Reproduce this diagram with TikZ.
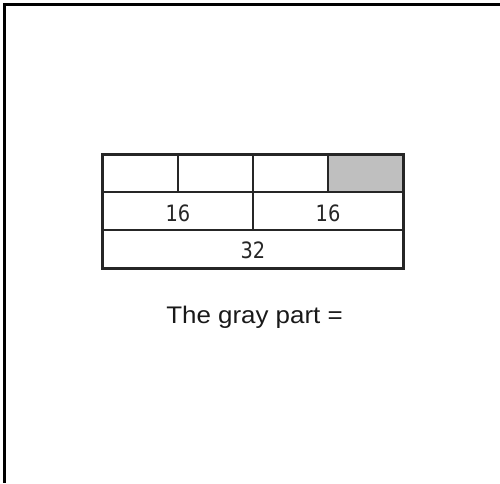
\documentclass[tikz,border=0pt]{standalone}
\usepackage{fontspec}
\setmainfont{Liberation Sans}
\newfontfamily\cellfont{DejaVu Sans}
\newcommand{\celltxt}[1]{\scalebox{0.86}[1]{\cellfont\fontsize{22.5}{27}\selectfont #1}}
\newcommand{\captxt}[1]{\scalebox{1.08}[1]{\fontsize{24}{28}\selectfont #1}}
\begin{document}
\begin{tikzpicture}[x=1pt,y=-1pt,
  frame/.style={line width=3pt},
  inner/.style={line width=2pt, draw=black!85},
  outer/.style={line width=3pt, draw=black!85},
  celltext/.style={inner sep=0pt, anchor=base, text=black!85},
  caption/.style={inner sep=0pt, anchor=base, text=black!90}]
\useasboundingbox (0,0) rectangle (500,483);
\draw[frame] (500,4) -- (4,4) -- (4,483);
\fill[gray!50] (328,154) rectangle (403,192);
\draw[inner] (102,192) -- (403,192);
\draw[inner] (102,230) -- (403,230);
\draw[inner] (178,154) -- (178,192);
\draw[inner] (253,154) -- (253,230);
\draw[inner] (328,154) -- (328,192);
\draw[outer] (102,154) rectangle (403,268);
\node[celltext] (a) at (178,221) {\celltxt{16}};
\node[celltext] (b) at (328,221) {\celltxt{16}};
\node[celltext] (c) at (253,258.5) {\celltxt{32}};
\node[caption] (t) at (254.5,323.5) {\captxt{The gray part =}};
\end{tikzpicture}
\end{document}
